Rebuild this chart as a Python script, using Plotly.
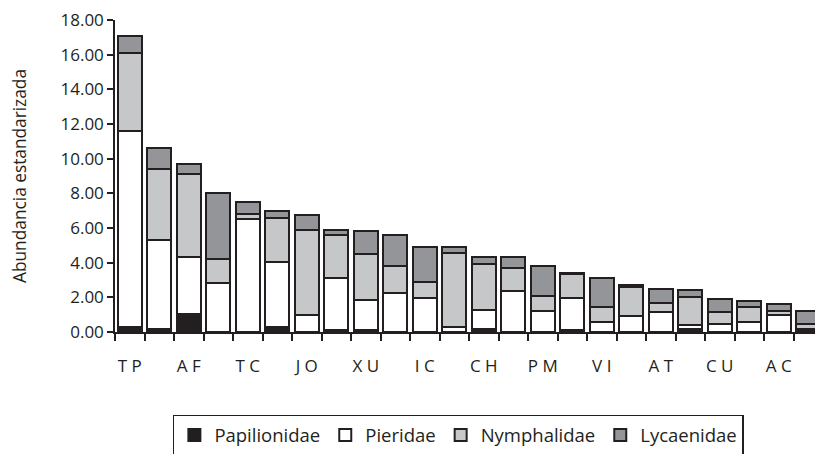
import plotly.graph_objects as go

labels = ["T P", "", "A F", "", "T C", "", "J O", "", "X U", "", "I C", "",
          "C H", "", "P M", "", "V I", "", "A T", "", "C U", "", "A C", ""]

# cumulative tops
top_pap = [0.30, 0.20, 1.05, 0.00, 0.00, 0.30, 0.00, 0.10, 0.10, 0.00, 0.00, 0.00,
           0.20, 0.00, 0.00, 0.10, 0.00, 0.00, 0.00, 0.15, 0.00, 0.00, 0.00, 0.05]
top_pie = [11.60, 5.30, 4.30, 2.80, 6.50, 4.06, 0.96, 3.10, 1.86, 2.27, 1.99, 0.27,
           1.28, 2.37, 1.19, 1.96, 0.58, 0.93, 1.15, 0.38, 0.47, 0.56, 0.96, 0.15]
top_nym = [16.10, 9.40, 9.10, 4.20, 6.80, 6.55, 5.89, 5.60, 4.50, 3.78, 2.88, 4.57,
           3.95, 3.69, 2.07, 3.33, 1.47, 2.61, 1.68, 2.00, 1.15, 1.43, 1.19, 0.49]
top_lyc = [17.10, 10.60, 9.70, 8.00, 7.50, 6.98, 6.77, 5.91, 5.81, 5.60, 4.89, 4.91,
           4.31, 4.31, 3.80, 3.39, 3.09, 2.70, 2.48, 2.41, 1.88, 1.79, 1.60, 1.20]

papilionidae = top_pap
pieridae = [b - a for a, b in zip(top_pap, top_pie)]
nymphalidae = [b - a for a, b in zip(top_pie, top_nym)]
lycaenidae = [b - a for a, b in zip(top_nym, top_lyc)]

x = list(range(len(labels)))
edge = "#231f20"
series = [
    ("Papilionidae", papilionidae, "#231f20"),
    ("Pieridae", pieridae, "#ffffff"),
    ("Nymphalidae", nymphalidae, "#c6c7c8"),
    ("Lycaenidae", lycaenidae, "#939598"),
]

fig = go.Figure()
for name, vals, col in series:
    fig.add_trace(go.Bar(x=x, y=vals, name=name,
                         marker=dict(color=col, line=dict(color=edge, width=2))))

font = "Open Sans, Noto Sans, DejaVu Sans, sans-serif"
fig.update_layout(
    barmode="stack", bargap=0.19,
    width=815, height=446,
    margin=dict(l=107, r=0, t=12, b=122, autoexpand=False),
    plot_bgcolor="white", paper_bgcolor="white",
    font=dict(family=font, size=17, color="#231f20"),
    showlegend=True,
    legend=dict(orientation="h", x=0.485, xanchor="center", y=-0.266, yanchor="top",
                bordercolor=edge, borderwidth=1.5, font=dict(size=18.5),
                traceorder="normal", itemwidth=30),
)
fig.update_xaxes(
    range=[-0.5, len(labels) - 0.5],
    tickmode="array", tickvals=x, ticktext=labels,
    ticks="", ticklen=0, showgrid=False, zeroline=False,
    showline=True, linecolor=edge, linewidth=1.5,
    tickfont=dict(size=17), ticklabelstandoff=18,
    minor=dict(tick0=-0.5, dtick=1, ticks="outside", ticklen=7, tickcolor=edge,
               tickwidth=1.5, showgrid=False),
)
fig.update_yaxes(
    range=[0, 18], dtick=2, tickformat=".2f",
    ticks="outside", ticklen=6, tickcolor=edge, tickwidth=1.5,
    showgrid=False, zeroline=False, showline=True, linecolor=edge, linewidth=1.5,
    tickfont=dict(size=17), ticklabeloverflow="allow",
    title=dict(text="Abundancia estandarizada", font=dict(size=17.3), standoff=32),
)
fig.write_html("out.html")
